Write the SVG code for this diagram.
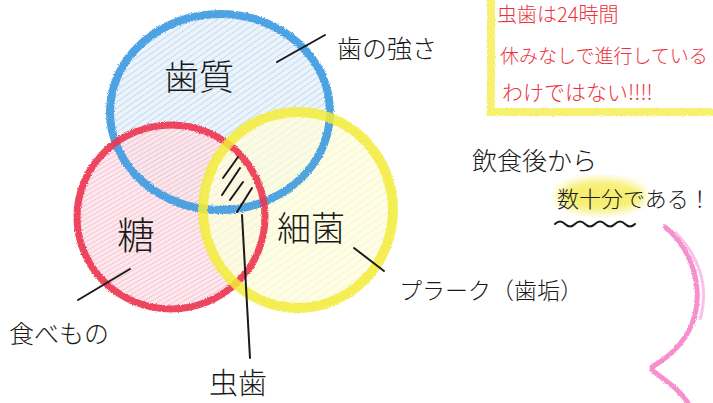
<svg xmlns="http://www.w3.org/2000/svg" width="713" height="403" viewBox="0 0 713 403">
<defs>
<filter id="crayon" x="-10%" y="-10%" width="120%" height="120%">
<feTurbulence type="fractalNoise" baseFrequency="0.9" numOctaves="2" seed="3" result="n"/>
<feDisplacementMap in="SourceGraphic" in2="n" scale="3" xChannelSelector="R" yChannelSelector="G"/>
</filter>
<filter id="soft"><feGaussianBlur stdDeviation="4"/></filter>
<pattern id="hBlue" width="5" height="5" patternUnits="userSpaceOnUse" patternTransform="rotate(55)">
<rect width="5" height="5" fill="#e9f2fb"/><line x1="0" y1="0" x2="0" y2="5" stroke="#a8cfef" stroke-width="1.5"/>
</pattern>
<pattern id="hRed" width="4" height="4" patternUnits="userSpaceOnUse" patternTransform="rotate(60)">
<rect width="4" height="4" fill="#fbe2e9"/><line x1="0" y1="0" x2="0" y2="4" stroke="#f29bb0" stroke-width="1.3"/>
</pattern>
<pattern id="hYellow" width="6" height="6" patternUnits="userSpaceOnUse" patternTransform="rotate(55)">
<rect width="6" height="6" fill="#fdfde2"/><line x1="0" y1="0" x2="0" y2="6" stroke="#f6f2a6" stroke-width="1.5"/>
</pattern>
</defs>
<style>
.ink{font-family:"Noto Sans CJK JP","Noto Sans",sans-serif;fill:#1a1a1a;font-weight:300}
.red{font-family:"Noto Sans CJK JP","Noto Sans",sans-serif;fill:#ee2f3c;font-weight:300}
.lead{stroke:#1a1a1a;stroke-width:2;fill:none;stroke-linecap:round}
</style>
<rect width="713" height="403" fill="#ffffff"/>

<g id="fills" opacity="0.85">
<ellipse cx="220" cy="112" rx="113" ry="100" fill="url(#hBlue)"/>
<ellipse cx="171" cy="217" rx="96" ry="94" fill="url(#hRed)" opacity="0.9"/>
<ellipse cx="298" cy="210" rx="97" ry="100" fill="url(#hYellow)" opacity="0.9"/>
</g>

<g id="node-shishitsu">
<ellipse cx="220" cy="112" rx="110" ry="98" fill="none" stroke="#3d9be0" stroke-width="8" opacity="0.9" filter="url(#crayon)"/>
<text class="ink" x="164" y="90" font-size="35">歯質</text>
</g>
<g id="node-tou">
<ellipse cx="171" cy="217" rx="94" ry="92" fill="none" stroke="#ec3450" stroke-width="7" opacity="0.9" filter="url(#crayon)"/>
<text class="ink" x="117" y="249" font-size="38">糖</text>
</g>
<g id="node-saikin">
<ellipse cx="298" cy="210" rx="95" ry="98" fill="none" stroke="#f3ec3a" stroke-width="10" opacity="0.85" filter="url(#crayon)"/>
<text class="ink" x="277" y="241" font-size="34">細菌</text>
</g>

<g id="connectors" class="lead">
<line x1="277" y1="62" x2="325" y2="35"/>
<line x1="78" y1="300" x2="130" y2="269"/>
<line x1="354" y1="248" x2="384" y2="271"/>
<line x1="242" y1="215" x2="250" y2="358"/>
<line x1="238" y1="157" x2="223" y2="178"/>
<line x1="240" y1="168" x2="222" y2="195"/>
<line x1="243" y1="182" x2="230" y2="200"/>
<line x1="252" y1="188" x2="237" y2="212"/>
</g>

<g id="labels">
<text class="ink" x="337" y="58" font-size="25">歯の強さ</text>
<text class="ink" x="9" y="343" font-size="25">食べもの</text>
<text class="ink" x="399" y="299" font-size="23">プラーク（歯垢）</text>
<text class="ink" x="209" y="394" font-size="29">虫歯</text>
</g>

<g id="note-box">
<rect x="491" y="-20" width="240" height="132" fill="none" stroke="#f8f070" stroke-width="8" filter="url(#crayon)"/>
<text class="red" x="497" y="22" font-size="20">虫歯は24時間</text>
<text class="red" x="500" y="63" font-size="19">休みなしで進行している</text>
<text class="red" x="502" y="100" font-size="21">わけではない!!!!</text>
</g>

<g id="note-time">
<text class="ink" x="472" y="170" font-size="25">飲食後から</text>
<ellipse cx="601" cy="196" rx="44" ry="17" fill="#f5ec5a" opacity="0.85" filter="url(#soft)"/>
<text class="ink" x="557" y="207" font-size="22">数十分である！</text>
<path class="lead" d="M555,224 q5,-5 10,0 t10,0 t10,0 t10,0 t10,0 t10,0 t10,0 t10,0"/>
</g>

<g id="pink-curve">
<path d="M665,227 C688,245 703,280 695,315 C688,340 672,355 652,367 M652,370 C665,380 680,390 688,403" fill="none" stroke="#f47cc6" stroke-width="5" stroke-linecap="round" opacity="0.85" filter="url(#crayon)"/>
<path d="M675,232 C698,255 710,285 700,320" fill="none" stroke="#f7a8dc" stroke-width="3" opacity="0.7"/>
</g>
</svg>
